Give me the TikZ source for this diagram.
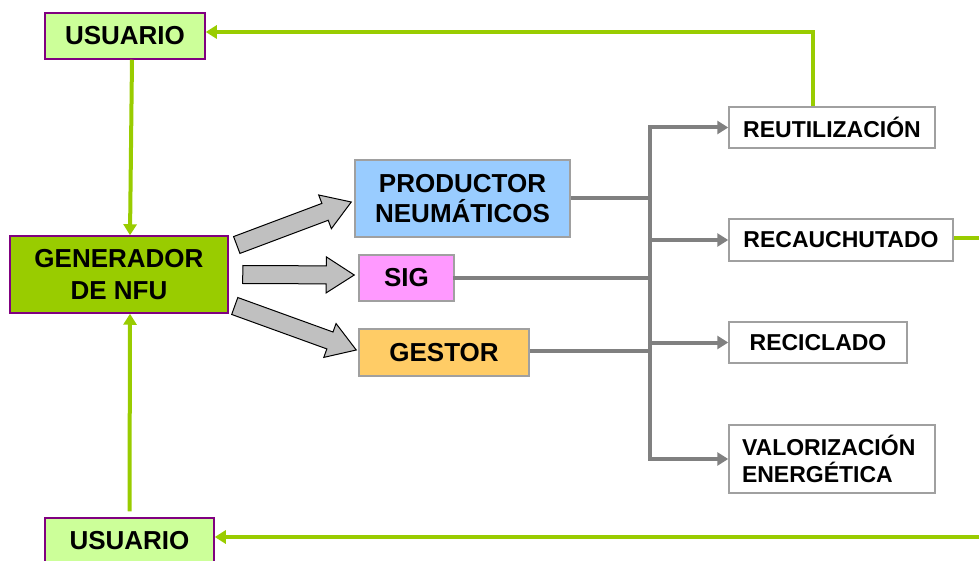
\documentclass[tikz,border=0pt]{standalone}
\usepackage{fontspec}
\setmainfont{Liberation Sans}
\usetikzlibrary{arrows.meta,calc}

\definecolor{nfugreen}{HTML}{99CC00}
\definecolor{palegreen}{HTML}{CCFF99}
\definecolor{boxpurple}{HTML}{800080}
\definecolor{boxgray}{HTML}{A0A0A0}
\definecolor{linegray}{HTML}{808080}
\definecolor{prodblue}{HTML}{99CCFF}
\definecolor{sigpink}{HTML}{FF99FF}
\definecolor{gestorange}{HTML}{FFCC66}
\definecolor{arrowgray}{HTML}{C0C0C0}

\tikzset{
    box/.style={draw=boxgray, line width=1.5pt, inner sep=0pt, align=center,
        font=\bfseries\fontsize{26}{30}\selectfont},
    userbox/.style={box, draw=boxpurple, fill=palegreen},
    endbox/.style={box, fill=white, font=\bfseries\fontsize{23}{27}\selectfont},
    greenline/.style={draw=nfugreen, line width=4pt, -{Triangle[length=11pt,width=13pt]}},
    grayline/.style={draw=linegray, line width=4pt},
    grayarrow/.style={grayline, -{Triangle[length=11pt,width=13pt]}},
    fatarrow/.style={draw=black, line width=1pt, fill=arrowgray, line join=miter}
}

% flecha gruesa de #1 a #2
\newcommand{\blockarrow}[2]{%
    \coordinate (ba-h) at ($(#2)!28pt!(#1)$);
    \draw[fatarrow] ($(#1)!9pt!90:(#2)$) -- ($(ba-h)!9pt!90:(#2)$)
        -- ($(ba-h)!18pt!90:(#2)$) -- (#2) -- ($(ba-h)!18pt!-90:(#2)$)
        -- ($(ba-h)!9pt!-90:(#2)$) -- ($(#1)!9pt!-90:(#2)$) -- cycle;}

\begin{document}
\begin{tikzpicture}[x=1pt, y=-1pt]
        \useasboundingbox (0,0) rectangle (979,561);

        %%%%%%%%% Usuarios %%%%%%%%%
        \node[userbox, minimum width=160, minimum height=46] (usrtop) at (125,36) {USUARIO};
        \node[userbox, minimum width=169, minimum height=46] (usrbot) at (129.5,541) {USUARIO};

        %%%%%%%%% Generador %%%%%%%%
        \node[box, draw=boxpurple, fill=nfugreen, minimum width=218, minimum height=77,
            font=\bfseries\fontsize{26}{32}\selectfont] (gen) at (119,274.5) {GENERADOR\\DE NFU};

        %%%%%%%%% Agentes %%%%%%%%%%
        \node[box, fill=prodblue, minimum width=215, minimum height=77] (prod) at (462.5,198.5) {PRODUCTOR\\NEUMÁTICOS};
        \node[box, fill=sigpink, minimum width=95, minimum height=46] (sig) at (406.5,278) {SIG};
        \node[box, fill=gestorange, minimum width=170, minimum height=47] (gestor) at (444,352.5) {GESTOR};

        %%%%%%%%% Destinos %%%%%%%%%
        \node[endbox, minimum width=206, minimum height=41] (reut) at (832,127.5) {REUTILIZACIÓN};
        \node[endbox, minimum width=224, minimum height=42] (recau) at (841,240) {RECAUCHUTADO};
        \node[endbox, minimum width=178, minimum height=41] (recic) at (818,342.5) {RECICLADO};
        \node[endbox, minimum width=206, minimum height=68, text width=180, align=left] (valor) at (832,459) {VALORIZACIÓN\\ENERGÉTICA};

        %%%%%%%%% Flechas gruesas %%%%%%%%%
        \coordinate (t1) at ([shift={(8,-29.5)}]gen.east);
        \coordinate (t2) at ([shift={(14,0)}]gen.east);
        \coordinate (t3) at ([shift={(6,31.5)}]gen.east);
        \coordinate (h1) at ([shift={(-3,3.5)}]prod.west);
        \coordinate (h2) at ([shift={(-4,-3)}]sig.west);
        \coordinate (h3) at ([shift={(-2,-2.5)}]gestor.west);
        \blockarrow{t1}{h1}
        \blockarrow{t2}{h2}
        \blockarrow{t3}{h3}

        %%%%%%%%% Reparto %%%%%%%%%
        \coordinate (bus) at (650,0);
        \draw[grayline] (prod.east) -- (prod.east -| bus);
        \draw[grayline] ([xshift=-2pt]sig.east) -- (sig.east -| bus);
        \draw[grayline] ([yshift=2pt]gestor.east) -- ([yshift=2pt]gestor.east -| bus);
        \draw[grayline, line cap=rect] (reut.west -| bus) -- (valor.west -| bus);
        \foreach \dest in {reut,recau,recic,valor}
            \draw[grayarrow] (\dest.west -| bus) -- (\dest.west);

        %%%%%%%%% Ciclo del usuario %%%%%%%%%
        \draw[greenline] ([xshift=7pt]usrtop.south) -- ([xshift=11pt]gen.north);
        \draw[greenline] ([yshift=6pt]usrbot.north) -- ([xshift=11pt]gen.south);
        \draw[greenline] ([xshift=-19pt]reut.north) |- ([yshift=4pt]usrtop.east);
        \coordinate (edge) at (995,0);
        \draw[greenline] ([yshift=2pt]recau.east) -| (edge |- usrbot) |- ([yshift=4pt]usrbot.east);
    \end{tikzpicture}
\end{document}
